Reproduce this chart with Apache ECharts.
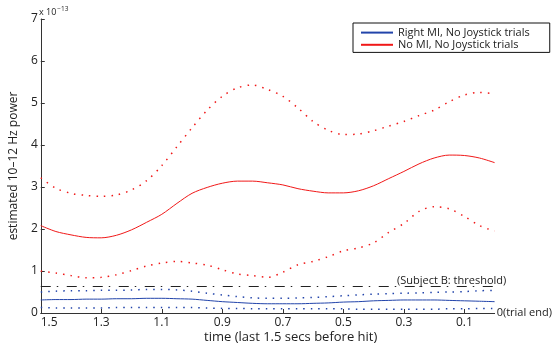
<!DOCTYPE html>
<html>
<head>
<meta charset="utf-8">
<script src="https://cdn.jsdelivr.net/npm/echarts@6/dist/echarts.min.js"></script>
<style>
  html, body { margin: 0; padding: 0; background: #fff; }
  #chart { width: 555px; height: 351px; }
</style>
</head>
<body>
<div id="chart"></div>
<script>
// time before hit (s), from 1.5 down to 0
const timeBeforeHit = [1.5,1.45,1.4,1.35,1.3,1.25,1.2,1.15,1.1,1.05,1.0,0.95,0.9,0.85,0.8,0.75,0.7,0.65,0.6,0.55,0.5,0.45,0.4,0.35,0.3,0.25,0.2,0.15,0.1,0.05,0];
// values in units of 1e-13
const redMean  = [2.08,1.94,1.86,1.80,1.79,1.85,1.98,2.16,2.35,2.61,2.85,2.99,3.09,3.14,3.14,3.10,3.05,2.96,2.90,2.86,2.86,2.91,3.03,3.20,3.37,3.55,3.69,3.76,3.75,3.69,3.58];
const redUpper = [3.22,2.97,2.85,2.80,2.78,2.81,2.93,3.15,3.51,3.96,4.41,4.83,5.16,5.36,5.43,5.32,5.16,4.88,4.56,4.35,4.25,4.26,4.34,4.45,4.56,4.70,4.83,5.03,5.19,5.25,5.22];
const redLower = [1.00,0.95,0.89,0.84,0.85,0.91,1.01,1.12,1.19,1.23,1.19,1.14,1.03,0.93,0.89,0.85,0.97,1.15,1.23,1.34,1.48,1.55,1.67,1.92,2.13,2.42,2.53,2.48,2.30,2.08,1.95];
const blueMean  = [0.31,0.32,0.32,0.33,0.33,0.34,0.34,0.35,0.35,0.34,0.33,0.30,0.27,0.25,0.23,0.22,0.22,0.22,0.23,0.24,0.26,0.27,0.29,0.30,0.31,0.31,0.31,0.30,0.29,0.28,0.27];
const blueUpper = [0.50,0.52,0.53,0.53,0.54,0.54,0.55,0.56,0.56,0.55,0.52,0.47,0.43,0.39,0.36,0.35,0.35,0.36,0.37,0.39,0.41,0.43,0.45,0.46,0.47,0.48,0.49,0.50,0.51,0.53,0.54];
const blueLower = [0.13,0.12,0.12,0.12,0.12,0.13,0.13,0.13,0.13,0.13,0.13,0.12,0.11,0.11,0.10,0.10,0.10,0.10,0.10,0.10,0.10,0.09,0.09,0.09,0.09,0.09,0.09,0.10,0.10,0.11,0.11];
const threshold = 0.64;
const thresholdLabel = '(Subject B: threshold)';
const seriesNames = ['Right MI, No Joystick trials', 'No MI, No Joystick trials'];
const yTicks = [0,1,2,3,4,5,6,7];

const TOTAL = 1.5;
const pairs = arr => arr.map((v, i) => [TOTAL - timeBeforeHit[i], v]);

const FONT = '"Open Sans", "DejaVu Sans", sans-serif';
const BLUE = '#2244aa';
const RED = '#f01818';
const DOT = [1.5, 6];

const chart = echarts.init(document.getElementById('chart'), null, { renderer: 'canvas' });
chart.setOption({
  animation: false,
  backgroundColor: '#fff',
  textStyle: { fontFamily: FONT },
  grid: { left: 37.5, right: 49.5, top: 19, bottom: 38, containLabel: false },
  legend: {
    left: 353, top: 23,
    orient: 'vertical',
    data: seriesNames,
    borderColor: '#111', borderWidth: 1,
    padding: [4, 20, 2, 7],
    itemWidth: 32, itemHeight: 14, itemGap: 1,
    itemStyle: { opacity: 0 },
    textStyle: { fontFamily: FONT, fontSize: 11, color: '#222' }
  },
  xAxis: {
    type: 'value', min: 0, max: TOTAL, interval: 0.2,
    name: '0(trial end)', nameLocation: 'end', nameGap: 2,
    nameTextStyle: { fontFamily: FONT, fontSize: 11, color: '#222' },
    axisLine: { show: true, lineStyle: { color: '#333', width: 1 } },
    axisTick: { show: true, inside: true, length: 4, lineStyle: { color: '#333' } },
    splitLine: { show: false },
    axisLabel: {
      fontFamily: FONT, fontSize: 12, color: '#222', margin: 4,
      showMaxLabel: false, alignMinLabel: 'left',
      formatter: v => (v > TOTAL - 0.05) ? '' : (TOTAL - v).toFixed(1)
    }
  },
  yAxis: {
    type: 'value', min: yTicks[0], max: yTicks[yTicks.length - 1], interval: 1,
    name: 'estimated 10\u201312 Hz power', nameLocation: 'middle', nameGap: 18,
    nameTextStyle: { fontFamily: FONT, fontSize: 12, color: '#222' },
    axisLine: { show: true, lineStyle: { color: '#333', width: 1 } },
    axisTick: { show: true, inside: true, length: 4, lineStyle: { color: '#333' } },
    splitLine: { show: false },
    axisLabel: { fontFamily: FONT, fontSize: 12, color: '#222', margin: 3 }
  },
  graphic: [
    {
      type: 'text', left: 39, top: 6,
      style: {
        text: '{a|x 10}{b|\u221213}',
        rich: {
          a: { fontFamily: FONT, fontSize: 9, fill: '#222', verticalAlign: 'bottom' },
          b: { fontFamily: FONT, fontSize: 6.5, fill: '#222', verticalAlign: 'top', padding: [0, 0, 4, 1] }
        }
      }
    },
    {
      type: 'text', left: 204, top: 331,
      style: { text: 'time (last 1.5 secs before hit)', fontFamily: FONT, fontSize: 13, fill: '#222' },
      z: 10
    },
    {
      type: 'text', left: 397, top: 275,
      style: { text: thresholdLabel, fontFamily: FONT, fontSize: 11, fill: '#222', backgroundColor: 'transparent' },
      z: 10
    }
  ],
  series: [
    {
      name: seriesNames[0], type: 'line', data: pairs(blueMean), smooth: 0.3,
      symbol: 'none', lineStyle: { color: BLUE, width: 1 }, itemStyle: { color: BLUE }
    },
    {
      name: 'blueUpper', type: 'line', data: pairs(blueUpper), smooth: 0.3,
      symbol: 'none', lineStyle: { color: BLUE, width: 1.5, type: DOT }
    },
    {
      name: 'blueLower', type: 'line', data: pairs(blueLower), smooth: 0.3,
      symbol: 'none', lineStyle: { color: BLUE, width: 1.5, type: DOT }
    },
    {
      name: seriesNames[1], type: 'line', data: pairs(redMean), smooth: 0.3,
      symbol: 'none', lineStyle: { color: RED, width: 1 }, itemStyle: { color: RED },
      markLine: {
        silent: true, symbol: 'none',
        lineStyle: { color: '#222', width: 1, type: [10, 6, 1.5, 8.5] },
        label: { show: false },
        data: [{ yAxis: threshold }]
      }
    },
    {
      name: 'redUpper', type: 'line', data: pairs(redUpper), smooth: 0.3,
      symbol: 'none', lineStyle: { color: RED, width: 1.5, type: DOT }
    },
    {
      name: 'redLower', type: 'line', data: pairs(redLower), smooth: 0.3,
      symbol: 'none', lineStyle: { color: RED, width: 1.5, type: DOT }
    }
  ]
});
</script>
</body>
</html>
